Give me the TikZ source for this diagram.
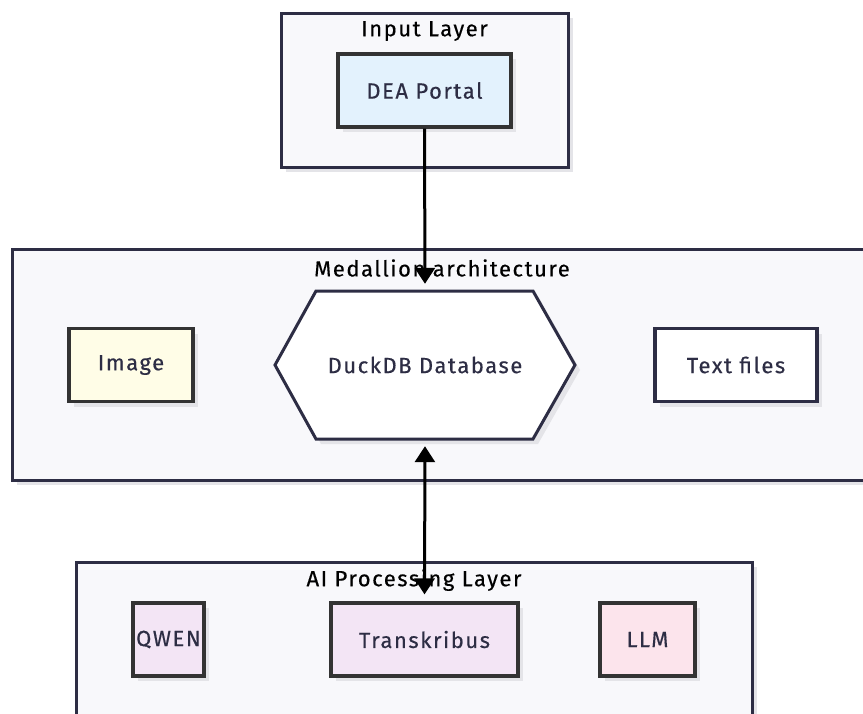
\documentclass[tikz,border=0pt]{standalone}
\usepackage{fontspec}
\setmainfont{Fira Sans}[LetterSpace=7, FakeBold=0.4]
\usetikzlibrary{arrows.meta,shadows}
\definecolor{grpfill}{HTML}{F8F8FB}
\definecolor{navy}{HTML}{2D2D44}
\definecolor{nodeline}{HTML}{333333}
\definecolor{shadowc}{HTML}{E4E4E8}
\definecolor{blue1}{HTML}{E3F2FD}
\definecolor{yellow1}{HTML}{FFFDE7}
\definecolor{purple1}{HTML}{F3E5F5}
\definecolor{pink1}{HTML}{FCE4EC}
\tikzset{
  shade5/.style={drop shadow={shadow xshift=5pt,shadow yshift=-5pt,fill=shadowc,opacity=1}},
  grp/.style={draw=navy,line width=3pt,fill=grpfill,shade5,inner sep=0pt},
  grptitle/.style={font=\fontsize{22}{26}\selectfont,text=black,inner sep=0pt},
  box/.style={draw=nodeline,line width=3.2pt,shade5,inner sep=0pt,minimum height=73pt,
    font=\fontsize{22}{26}\selectfont,text=navy},
  arr/.style={line width=3pt,draw=black,-{Triangle[width=20pt,length=16pt]}},
  darr/.style={line width=3pt,draw=black,{Triangle[width=20pt,length=16pt]}-{Triangle[width=20pt,length=16pt]}}
}
\begin{document}
\begin{tikzpicture}[x=1pt,y=-1pt]
\useasboundingbox (0,0) rectangle (863,713);
\clip (0,0) rectangle (863,713);
\fill[white] (0,0) rectangle (863,713);
% groups
\node[grp,minimum width=287pt,minimum height=154pt] (ingrp) at (424.5,90) {};
\node[grptitle] (intitle) at (424.5,31) {Input Layer};
\node[grp,minimum width=860pt,minimum height=231pt] (medgrp) at (442,364.5) {};
\node[grptitle] (medtitle) at (442,268) {Medallion architecture};
\node[grp,minimum width=676pt,minimum height=180pt] (aigrp) at (414,652) {};
\node[grptitle] (aititle) at (414,580) {AI Processing Layer};
% input nodes
\node[box,fill=blue1,minimum width=173pt] (dea) at (424.5,90.5) {DEA Portal};
% medallion nodes
\node[box,fill=yellow1,minimum width=124pt] (img) at (131,365) {\raisebox{-1pt}{Image}};
\node[box,fill=white,draw=navy,minimum width=162pt] (txt) at (736,365) {Text files};
\fill[shadowc] (280,370) -- (321,296) -- (538,296) -- (580,370) -- (538,444) -- (321,444) -- cycle;
\draw[navy,line width=3pt,fill=white,line join=miter] (275,365) -- (316,291) -- (533,291) -- (575,365) -- (533,439) -- (316,439) -- cycle;
\node[minimum width=300pt,minimum height=148pt,inner sep=0pt,font=\fontsize{22}{26}\selectfont,text=navy] (db) at (425,365) {DuckDB Database};
% AI nodes
\node[box,fill=purple1,minimum width=71pt] (qwen) at (168.5,639.5) {QWEN};
\node[box,fill=purple1,minimum width=187pt] (trans) at (424.5,639.5) {Transkribus};
\node[box,fill=pink1,minimum width=95pt] (llm) at (647.5,639.5) {LLM};
% connectors
\draw[arr,shorten >=7pt] (dea.south) -- (db.north);
\draw[darr,shorten <=7pt,shorten >=7pt] (db.south) -- (trans.north);
\end{tikzpicture}
\end{document}
